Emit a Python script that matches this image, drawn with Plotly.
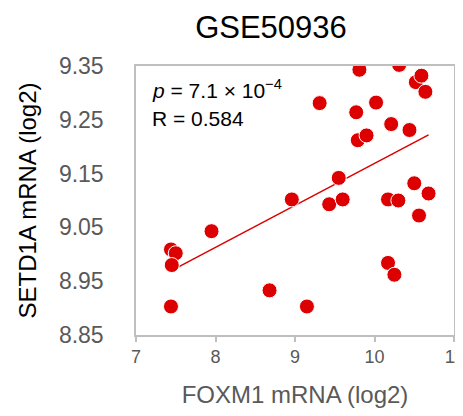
import numpy as np
import plotly.graph_objects as go

title = "GSE50936"
x_label = "FOXM1 mRNA (log2)"
y_label = "SETD1A mRNA (log2)"

foxm1 = [7.44, 7.50, 7.45, 7.44, 7.95, 8.68, 9.15, 8.96, 9.31, 9.43,
         9.60, 9.55, 9.77, 9.79, 9.90, 9.81, 10.02, 10.31, 10.21, 10.44,
         10.52, 10.59, 10.64, 10.17, 10.30, 10.50, 10.68, 10.56, 10.17, 10.25]
setd1a = [9.009, 9.002, 8.980, 8.903, 9.043, 8.933, 8.903, 9.102, 9.281, 9.093,
          9.102, 9.142, 9.264, 9.212, 9.221, 9.343, 9.282, 9.352, 9.242, 9.231,
          9.320, 9.332, 9.302, 9.102, 9.100, 9.132, 9.113, 9.072, 8.984, 8.962]

x_ticks = [7, 8, 9, 10, 11]
y_ticks = [8.85, 8.95, 9.05, 9.15, 9.25, 9.35]
y_tick_text = ["8.85", "8.95", "9.05", "9.15", "9.25", "9.35"]

p_text = "<i>p</i> = 7.1 × 10<sup>−4</sup>"
r_text = "R = 0.584"

slope, intercept = np.polyfit(foxm1, setd1a, 1)
tx = np.array([min(foxm1), max(foxm1)])
ty = slope * tx + intercept

red = "#DC0000"
grey_line = "#BFBFBF"
grey_text = "#595959"
font = "Liberation Sans, Arial, sans-serif"

# the page body has an 8px margin, so the figure is sized/offset accordingly
W, H = 455, 400

fig = go.Figure()
fig.add_trace(go.Scatter(x=tx, y=ty, mode="lines",
                         line=dict(color=red, width=1.5), hoverinfo="skip"))
fig.add_trace(go.Scatter(x=foxm1, y=setd1a, mode="markers",
                         marker=dict(color=red, size=15,
                                     line=dict(color="white", width=1))))

fig.update_layout(
    width=W, height=H,
    margin=dict(l=128, r=9, t=58, b=73, autoexpand=False),
    paper_bgcolor="white", plot_bgcolor="white",
    showlegend=False,
    font=dict(family=font),
    title=dict(text=title, x=263 / W, xanchor="center",
               y=1 - 19 / H, yanchor="middle", yref="container",
               font=dict(size=31, color="black", family=font)),
    xaxis=dict(range=[7, 11], tickvals=x_ticks, ticktext=[str(v) for v in x_ticks],
               showgrid=False, zeroline=False, showline=True, mirror=True,
               automargin=False, ticklabeloverflow="allow",
               linecolor=grey_line, linewidth=1.5,
               ticks="outside", ticklen=5, tickcolor=grey_line, tickwidth=1.5,
               tickfont=dict(size=18, color=grey_text),
               title=dict(text=x_label, font=dict(size=24, color=grey_text), standoff=20)),
    yaxis=dict(range=[8.85, 9.35], tickvals=y_ticks, ticktext=y_tick_text,
               showgrid=False, zeroline=False, showline=True, mirror=True,
               automargin=False, ticklabeloverflow="allow",
               linecolor=grey_line, linewidth=1.5, ticks="",
               ticklabelstandoff=26,
               tickfont=dict(size=23, color=grey_text),
               title=dict(text=y_label, font=dict(size=24, color="black"), standoff=15)),
)

fig.add_annotation(x=0, y=1, xref="x domain", yref="paper", text=p_text,
                   xanchor="left", yanchor="middle", showarrow=False,
                   xshift=14, yshift=-(89 - 66),
                   font=dict(size=21, color="black", family=font))
fig.add_annotation(x=0, y=1, xref="x domain", yref="paper", text=r_text,
                   xanchor="left", yanchor="middle", showarrow=False,
                   xshift=14, yshift=-(118 - 66),
                   font=dict(size=21, color="black", family=font))

fig.write_html("out.html")
